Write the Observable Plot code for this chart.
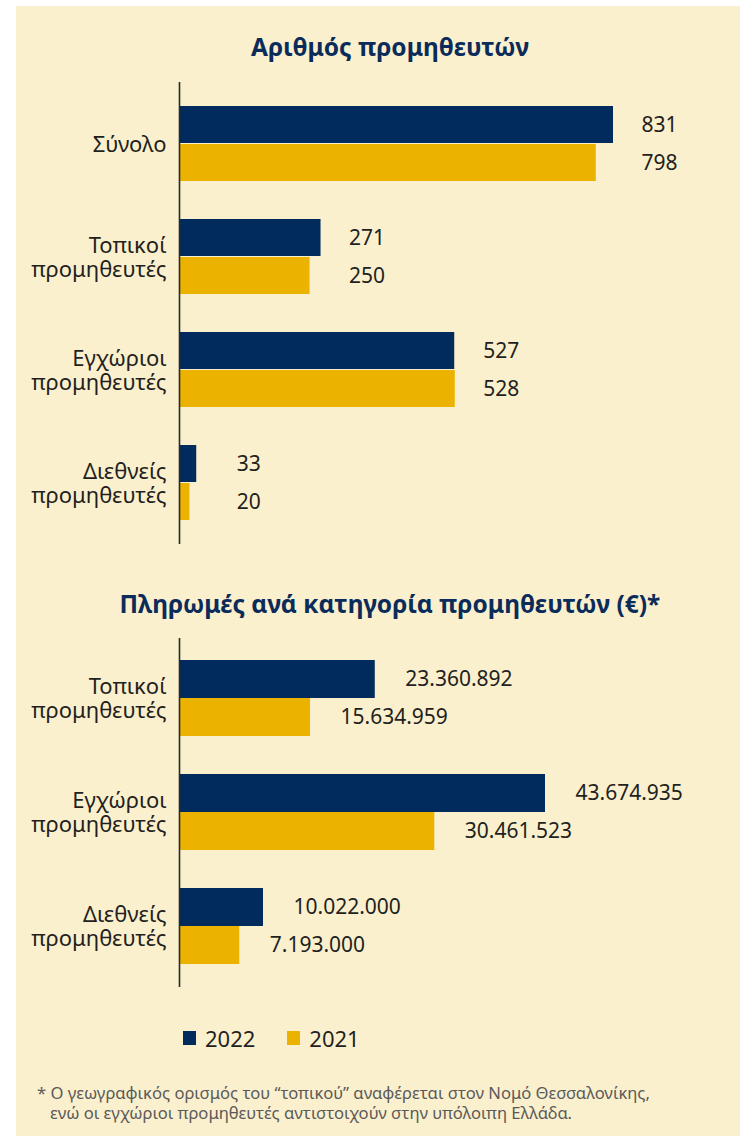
<!DOCTYPE html>
<html>
<head>
<meta charset="utf-8">
<script src="https://cdn.jsdelivr.net/npm/d3@7"></script>
<script src="https://cdn.jsdelivr.net/npm/@observablehq/plot@0.6"></script>
<style>
  html, body { margin: 0; padding: 0; background: #ffffff; }
  body { position: relative; width: 740px; height: 1136px; overflow: hidden; font-family: "Noto Sans", sans-serif; }
  #bg { position: absolute; left: 16px; top: 6px; width: 724px; height: 1130px; background: #FAF0CD; }
  .title { position: absolute; left: 16px; width: 748px; text-align: center; font-weight: 700; font-size: 24.5px; color: #0B2C5A; }
  .chart { position: absolute; left: 0; }
  #legend { position: absolute; left: 183px; top: 1023px; display: flex; align-items: center; font-size: 22px; color: #231F20; }
  #legend .sw { display: inline-block; width: 13px; height: 14px; margin-right: 9px; }
  #legend .item { display: flex; align-items: center; margin-right: 32px; }
  #note { position: absolute; left: 37px; top: 1083px; font-size: 16.6px; line-height: 20px; color: #5a5a5a; white-space: nowrap; }
</style>
</head>
<body>
<div id="bg"></div>
<div class="title" style="top:30px">Αριθμός προμηθευτών</div>
<div class="chart" id="c1" style="top:72px"></div>
<div class="title" style="top:587px">Πληρωμές ανά κατηγορία προμηθευτών (€)*</div>
<div class="chart" id="c2" style="top:628px"></div>
<div id="legend"></div>
<div id="note">* Ο γεωγραφικός ορισμός του “τοπικού” αναφέρεται στον Νομό Θεσσαλονίκης,<br>&nbsp;&nbsp; ενώ οι εγχώριοι προμηθευτές αντιστοιχούν στην υπόλοιπη Ελλάδα.</div>
<script>
const years = ["2022", "2021"];
const yearColors = ["#002B5C", "#EBB300"];

const categories1 = ["Σύνολο", "Τοπικοί προμηθευτές", "Εγχώριοι προμηθευτές", "Διεθνείς προμηθευτές"];
const suppliers2022 = [831, 271, 527, 33];
const suppliers2021 = [798, 250, 528, 20];

const categories2 = ["Τοπικοί προμηθευτές", "Εγχώριοι προμηθευτές", "Διεθνείς προμηθευτές"];
const payments2022 = [23360892, 43674935, 10022000];
const payments2021 = [15634959, 30461523, 7193000];

const grFormat = d3.formatLocale({decimal: ",", thousands: ".", grouping: [3], currency: ["", "€"]}).format(",d");
const splitLabel = s => s.replace(" ", "\n");

function makeChart({categories, v2022, v2021, height, marginRight, paddingInner, paddingOuter, labelMode}) {
  const d22 = categories.map((c, i) => ({cat: c, year: years[0], value: v2022[i]}));
  const d21 = categories.map((c, i) => ({cat: c, year: years[1], value: v2021[i]}));
  const groupMax = new Map(categories.map((c, i) => [c, Math.max(v2022[i], v2021[i])]));
  const xMax = d3.max([...v2022, ...v2021]);
  const textOpts = (data, dy) => labelMode === "group"
    ? Plot.text(data, {x: d => groupMax.get(d.cat), y: "cat", text: d => grFormat(d.value), dy, dx: 64, textAnchor: "end", fontSize: 21, fill: "#231F20"})
    : Plot.text(data, {x: "value", y: "cat", text: d => grFormat(d.value), dy, dx: 30, textAnchor: "start", fontSize: 21, fill: "#231F20"});
  return Plot.plot({
    width: 740,
    height,
    marginLeft: 179,
    marginRight,
    marginTop: 10,
    marginBottom: 10,
    style: {background: "transparent", fontFamily: "Noto Sans", fontSize: "20px", color: "#231F20"},
    x: {domain: [0, xMax], axis: null},
    y: {domain: categories, paddingInner, paddingOuter, axis: null},
    marks: [
      Plot.barX(d22, {x: "value", y: "cat", fill: yearColors[0], insetBottom: 38}),
      Plot.barX(d21, {x: "value", y: "cat", fill: yearColors[1], insetTop: 38}),
      Plot.ruleX([0], {stroke: "#2a2a2a", strokeWidth: 1.6}),
      Plot.axisY({tickSize: 0, tickPadding: 13, fontSize: 22, lineHeight: 1.1, tickFormat: splitLabel, fill: "#231F20", label: null}),
      textOpts(d22, -19),
      textOpts(d21, 19)
    ]
  });
}

document.getElementById("c1").append(makeChart({
  categories: categories1, v2022: suppliers2022, v2021: suppliers2021,
  height: 482, marginRight: 127, paddingInner: 0.333, paddingOuter: 0.193, labelMode: "group"
}));

document.getElementById("c2").append(makeChart({
  categories: categories2, v2022: payments2022, v2021: payments2021,
  height: 369, marginRight: 195, paddingInner: 0.33, paddingOuter: 0.194, labelMode: "own"
}));

const legend = document.getElementById("legend");
years.forEach((y, i) => {
  const item = document.createElement("span");
  item.className = "item";
  item.innerHTML = `<span class="sw" style="background:${yearColors[i]}"></span><span>${y}</span>`;
  legend.append(item);
});
</script>
</body>
</html>
